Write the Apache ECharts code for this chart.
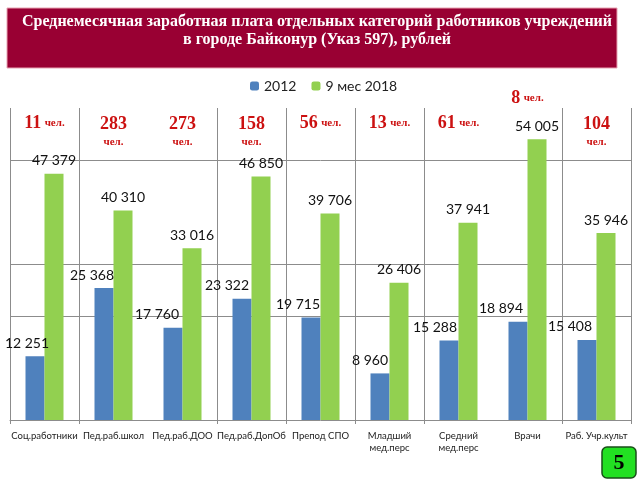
<!DOCTYPE html>
<html><head><meta charset="utf-8">
<script src="https://cdn.jsdelivr.net/npm/echarts@6/dist/echarts.min.js"></script>
<style>html,body{margin:0;padding:0;background:#fff}#c{width:640px;height:480px}</style>
</head><body><div id="c"></div>
<script>
const categories = ["Соц.работники","Пед.раб.школ","Пед.раб.ДОО","Пед.раб.ДопОб","Препод СПО","Младший\nмед.перс","Средний\nмед.перс","Врачи","Раб. Учр.культ"];
const series2012 = [12251, 25368, 17760, 23322, 19715, 8960, 15288, 18894, 15408];
const series2018 = [47379, 40310, 33016, 46850, 39706, 26406, 37941, 54005, 35946];
const headcount = [11, 283, 273, 158, 56, 13, 61, 8, 104];
const gridValues = [20000, 30000, 50000];
const hiddenBoundaries = [2, 7];
const slideNumber = "5";
// style only: horizontal shift of the 2012 value labels, as placed on the slide
const blueLabelShift = [-8, -12, -16, -15, -13, -10, -14, -17, -17];

const fmt = v => String(v).replace(/\B(?=(\d{3})+(?!\d))/g, ' ');
const maxGreen = series2018.indexOf(Math.max(...series2018));
const lineColor = '#8c8c8c';
const sansFont = 'Lato, "Open Sans", sans-serif';
const boundaries = [];
for (let i = 0; i <= categories.length; i++) if (!hiddenBoundaries.includes(i)) boundaries.push([i]);

const chart = echarts.init(document.getElementById('c'));
chart.setOption({
  animation: false,
  title: {
    text: 'Среднемесячная заработная плата отдельных категорий работников учреждений\nв городе Байконур (Указ 597), рублей',
    left: 312, top: 8, textAlign: 'center',
    textStyle: {color: '#fff', fontFamily: '"Liberation Serif", serif', fontWeight: 'bold', fontSize: 16, lineHeight: 18}
  },
  graphic: [
    {type: 'rect', z: -1, shape: {x: 7, y: 8, width: 610, height: 60}, style: {fill: '#990033', stroke: '#e7a3b3', lineWidth: 1}},
    {type: 'rect', shape: {x: 602, y: 447, width: 34, height: 31, r: 5}, style: {fill: '#22e022', stroke: '#1a4d1a', lineWidth: 1.5}},
    {type: 'text', x: 619, y: 463, style: {text: slideNumber, fill: '#000', font: 'bold 22px "Liberation Serif", serif', align: 'center', verticalAlign: 'middle'}}
  ],
  legend: {
    top: 74, left: 245, itemWidth: 9, itemHeight: 9, itemGap: 15,
    textStyle: {fontFamily: sansFont, fontSize: 14, color: '#222'},
    data: ['2012', '9 мес 2018']
  },
  grid: {left: 10, right: 9, top: 108, bottom: 60},
  xAxis: {
    type: 'category', data: categories,
    axisLine: {lineStyle: {color: lineColor}},
    axisTick: {show: false},
    splitLine: {show: false},
    axisLabel: {fontFamily: sansFont, fontSize: 9.5, color: '#222', margin: 10, lineHeight: 12, interval: 0}
  },
  yAxis: {
    type: 'value', min: 0, max: 60000, interval: 10000,
    axisLabel: {show: false}, axisLine: {show: false}, axisTick: {show: false}, splitLine: {show: false}
  },
  series: [
    {
      name: '2012', type: 'bar', barWidth: 19, barGap: '0%',
      data: series2012.map((v, i) => ({value: v, label: {offset: [blueLabelShift[i], 0]}})),
      itemStyle: {color: '#4f81bd'},
      label: {show: true, position: 'top', distance: 6, formatter: p => fmt(p.value), fontFamily: sansFont, fontSize: 14, color: '#111'},
      markLine: {z: 1, silent: true, symbol: 'none', label: {show: false}, lineStyle: {color: lineColor, type: 'solid', width: 1}, data: gridValues.map(v => ({yAxis: v}))}
    },
    {
      name: '9 мес 2018', type: 'bar', data: series2018, barWidth: 19,
      itemStyle: {color: '#92d050'},
      label: {show: true, position: 'top', distance: 6, formatter: p => fmt(p.value), fontFamily: sansFont, fontSize: 14, color: '#111'}
    },
    {
      type: 'custom', silent: true, z: 1,
      data: boundaries,
      renderItem: (params, api) => {
        const b = api.value(0);
        const band = api.size([1, 0])[0];
        const idx = Math.min(b, categories.length - 1);
        const x = Math.round(api.coord([idx, 0])[0] + (b - idx - 0.5) * band) + 0.5;
        const cs = params.coordSys;
        return {type: 'line', shape: {x1: x, y1: cs.y, x2: x, y2: cs.y + cs.height + 4}, style: {stroke: lineColor, lineWidth: 1}};
      }
    },
    {
      type: 'custom', silent: true, z: 5,
      data: headcount.map((v, i) => [i, v]),
      renderItem: (params, api) => {
        const i = api.value(0), n = api.value(1);
        const x = api.coord([i, 0])[0];
        const twoLine = String(n).length >= 3;
        const y = i === maxGreen ? 98 : (twoLine ? 132 : 123);
        const text = twoLine ? '{n|' + n + '}\n{u|чел.}' : '{n|' + n + '} {u|чел.}';
        return {
          type: 'text', x: x, y: y,
          style: {
            text: text, align: 'center', verticalAlign: 'middle',
            rich: {
              n: {fontFamily: '"Liberation Serif", serif', fontWeight: 'bold', fontSize: 18, fill: '#cc1111', lineHeight: 20, align: 'center'},
              u: {fontFamily: '"Liberation Serif", serif', fontWeight: 'bold', fontSize: 11, fill: '#cc1111', lineHeight: 16, align: 'center'}
            }
          }
        };
      }
    }
  ]
});
</script></body></html>
